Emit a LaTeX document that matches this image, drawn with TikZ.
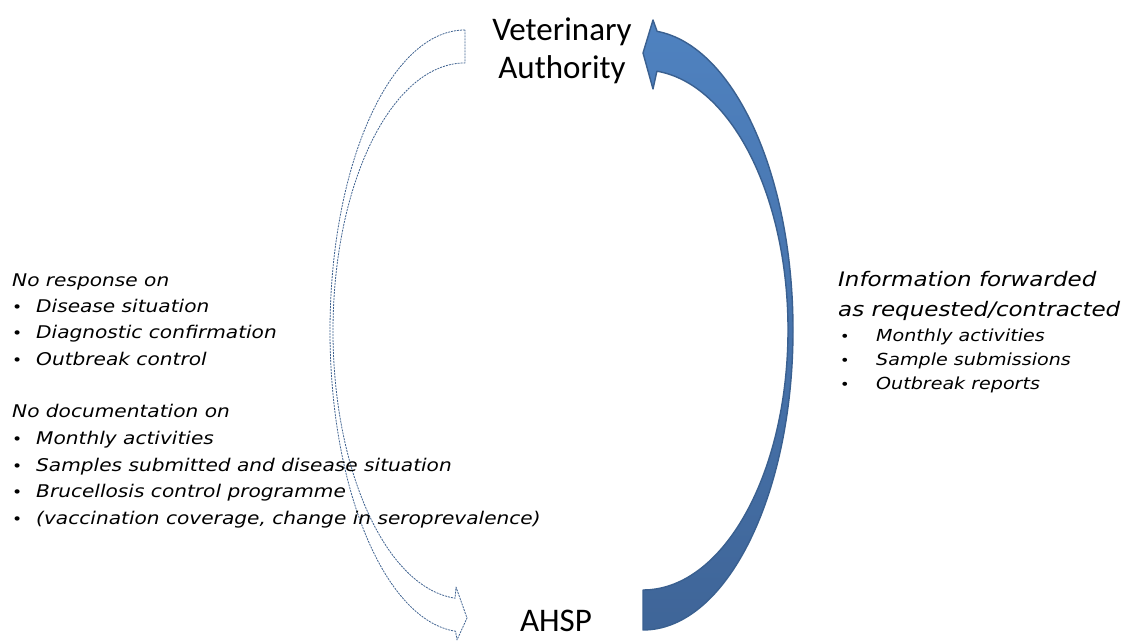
\documentclass[tikz,border=0pt]{standalone}
\usepackage{fontspec}
\setmainfont{Carlito}
\newfontfamily\handfont[FakeStretch=1.15]{DejaVu Sans}
\definecolor{arrowtop}{HTML}{4F82C0}
\definecolor{arrowbot}{HTML}{3F6598}
\definecolor{arrowline}{HTML}{3A6090}
\definecolor{dashline}{HTML}{3F6290}
\tikzset{
  x=1pt, y=1pt,
  party/.style={font=\fontsize{33}{38}\selectfont, align=center, inner sep=0pt},
  handL/.style={font=\handfont\itshape\fontsize{17.5}{26}\selectfont, anchor=base west, inner sep=0pt},
  handM/.style={font=\handfont\itshape\fontsize{16.6}{24}\selectfont, anchor=base west, inner sep=0pt},
  handH/.style={font=\handfont\itshape\fontsize{20}{30}\selectfont, anchor=base west, inner sep=0pt},
  dotL/.style={font=\handfont\fontsize{15}{26}\selectfont, anchor=base west, inner sep=0pt},
  dotM/.style={font=\handfont\fontsize{14}{24}\selectfont, anchor=base west, inner sep=0pt},
  flowarrow/.style={draw=arrowline, line width=1.4pt, line join=round,
    top color=arrowtop, bottom color=arrowbot},
  missingarrow/.style={draw=dashline, line width=0.8pt, dash pattern=on 2pt off 1pt, line join=round}
}
\begin{document}
\begin{tikzpicture}
\useasboundingbox (0,0) rectangle (1127,642);

% the two parties
\node[party] (va) at (562,591) {Veterinary\\Authority};
\node[party, anchor=base] (ahsp) at (556,10) {AHSP};

% solid return arrow: AHSP -> Veterinary Authority
\draw[flowarrow] (643,12)
  arc[start angle=-90, end angle=84.6, x radius=150, y radius=300]
  -- (653,622) -- (643,589) -- (653,553) -- (656.9,570.8)
  arc[start angle=84.5, end angle=-90, x radius=145, y radius=260]
  -- cycle;

% dashed outline arrow: Veterinary Authority -> AHSP (no feedback)
\draw[missingarrow] (465,612)
  arc[start angle=90, end angle=266, x radius=135, y radius=301]
  -- (457,2) -- (467,24) -- (456,55) -- (455.1,43.8)
  arc[start angle=265.7, end angle=90, x radius=132, y radius=268]
  -- cycle;

% left block: missing feedback
\node[handL] (nr)  at (12,355) {No response on};
\node[dotL]  (b1)  at (12,329) {•};
\node[handL] (nr1) at (36,329) {Disease situation};
\node[dotL]  (b2)  at (12,303) {•};
\node[handL] (nr2) at (36,303) {Diagnostic confirmation};
\node[dotL]  (b3)  at (12,276) {•};
\node[handL] (nr3) at (36,276) {Outbreak control};

\node[handL] (nd)  at (12,224) {No documentation on};
\node[dotL]  (b4)  at (12,197) {•};
\node[handL] (nd1) at (36,197) {Monthly activities};
\node[dotL]  (b5)  at (12,170) {•};
\node[handL] (nd2) at (36,170) {Samples submitted and disease situation};
\node[dotL]  (b6)  at (12,144) {•};
\node[handL] (nd3) at (36,144) {Brucellosis control programme};
\node[dotL]  (b7)  at (12,117) {•};
\node[handL] (nd4) at (36,117) {(vaccination coverage, change in seroprevalence)};

% right block: information sent upwards
\node[handH] (if)  at (838,355) {Information forwarded};
\node[handH] (ir)  at (838,325) {as requested/contracted};
\node[dotM]  (c1)  at (840,300) {•};
\node[handM] (if1) at (876,300) {Monthly activities};
\node[dotM]  (c2)  at (840,276) {•};
\node[handM] (if2) at (876,276) {Sample submissions};
\node[dotM]  (c3)  at (840,252) {•};
\node[handM] (if3) at (876,252) {Outbreak reports};
\end{tikzpicture}
\end{document}
